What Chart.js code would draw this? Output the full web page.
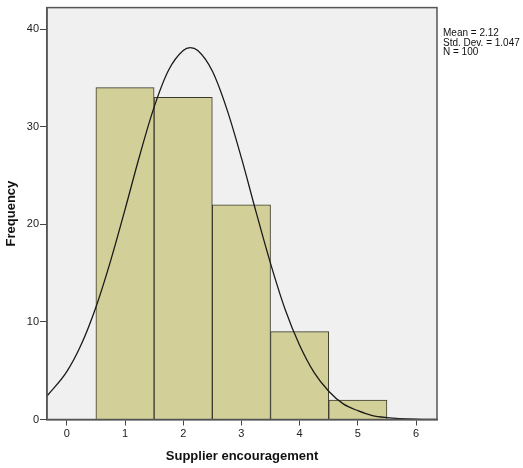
<!DOCTYPE html>
<html>
<head>
<meta charset="utf-8">
<script src="https://cdn.jsdelivr.net/npm/chart.js@4"></script>
<style>
  html, body { margin: 0; padding: 0; background: #fff; }
  canvas { display: block; }
</style>
</head>
<body>
<canvas id="histChart" width="523" height="468"></canvas>
<script>
// Histogram of supplier encouragement scores with normal curve overlay

const binCenters = [1, 2, 3, 4, 5];
const binCounts = [34, 33, 22, 9, 2];

// Normal curve traced along the x axis
const curveX = [-0.34, 0, 0.25, 0.5, 0.75, 1, 1.25, 1.5, 1.75, 2, 2.12, 2.25, 2.5, 2.75, 3, 3.25, 3.5, 3.75, 4, 4.25, 4.5, 4.75, 5, 5.25, 5.5, 6, 6.36];
const curveY = [2.4, 4.9, 7.7, 11.5, 16.2, 21.5, 27.0, 32.0, 35.8, 37.8, 38.1, 37.8, 35.7, 31.8, 26.8, 21.3, 16.0, 11.3, 7.6, 4.8, 2.9, 1.6, 0.9, 0.4, 0.2, 0.03, 0.0];

const xTicks = [0, 1, 2, 3, 4, 5, 6];
const yTicks = [0, 10, 20, 30, 40];

const statLines = ['Mean = 2.12', 'Std. Dev. = 1.047', 'N = 100'];

const fontFamily = "'Liberation Sans', Arial, sans-serif";

// Plot background, frame and the stats box on the right
const framePlugin = {
    id: 'frame',
    beforeDraw(chart) {
        const { ctx, chartArea: a } = chart;
        ctx.save();
        ctx.fillStyle = '#f0f0f0';
        ctx.fillRect(a.left, a.top, a.right - a.left, a.bottom - a.top);
        ctx.restore();
    },
    afterDraw(chart) {
        const { ctx, chartArea: a } = chart;
        ctx.save();
        ctx.strokeStyle = '#555';
        ctx.lineWidth = 1.5;
        ctx.strokeRect(a.left, a.top, a.right - a.left, a.bottom - a.top);
        ctx.fillStyle = '#111';
        ctx.font = '10px ' + fontFamily;
        ctx.textBaseline = 'alphabetic';
        statLines.forEach((line, i) => {
            ctx.fillText(line, a.right + 6, 36 + i * 9.5);
        });
        ctx.restore();
    }
};

new Chart(document.getElementById('histChart'), {
    type: 'bar',
    data: {
        datasets: [
            {
                type: 'line',
                data: curveX.map((x, i) => ({ x: x, y: curveY[i] })),
                borderColor: '#1a1a1a',
                borderWidth: 1.3,
                pointRadius: 0,
                fill: false,
                cubicInterpolationMode: 'monotone',
                order: 0
            },
            {
                type: 'bar',
                data: binCenters.map((x, i) => ({ x: x, y: binCounts[i] })),
                backgroundColor: '#d3cf98',
                borderColor: '#3b3a2c',
                borderWidth: 1,
                barPercentage: 1,
                categoryPercentage: 1,
                order: 1
            }
        ]
    },
    options: {
        responsive: false,
        animation: false,
        layout: { padding: { top: 7, right: 86, left: 0, bottom: 0 } },
        plugins: {
            legend: { display: false },
            tooltip: { enabled: false }
        },
        scales: {
            x: {
                type: 'linear',
                min: -0.34,
                max: 6.36,
                offset: false,
                afterBuildTicks(scale) {
                    scale.ticks = xTicks.map(v => ({ value: v }));
                },
                afterFit(scale) { scale.height = 48.5; },
                ticks: {
                    color: '#222',
                    font: { family: fontFamily, size: 11 },
                    padding: 2
                },
                grid: {
                    drawOnChartArea: false,
                    tickLength: 6,
                    color: '#444',
                    offset: false
                },
                border: { color: '#555', width: 1.5 },
                title: {
                    display: true,
                    text: 'Supplier encouragement',
                    color: '#111',
                    font: { family: fontFamily, size: 13, weight: 'bold' },
                    padding: { top: 6 }
                }
            },
            y: {
                min: 0,
                max: 42.2,
                afterBuildTicks(scale) {
                    scale.ticks = yTicks.map(v => ({ value: v }));
                },
                afterFit(scale) { scale.width = 47; },
                ticks: {
                    color: '#222',
                    font: { family: fontFamily, size: 11 },
                    padding: 1
                },
                grid: {
                    drawOnChartArea: false,
                    tickLength: 7,
                    color: '#444'
                },
                border: { color: '#555', width: 1.5 },
                title: {
                    display: true,
                    text: 'Frequency',
                    color: '#111',
                    font: { family: fontFamily, size: 13, weight: 'bold' },
                    padding: { bottom: 2 }
                }
            }
        }
    },
    plugins: [framePlugin]
});
</script>
</body>
</html>
